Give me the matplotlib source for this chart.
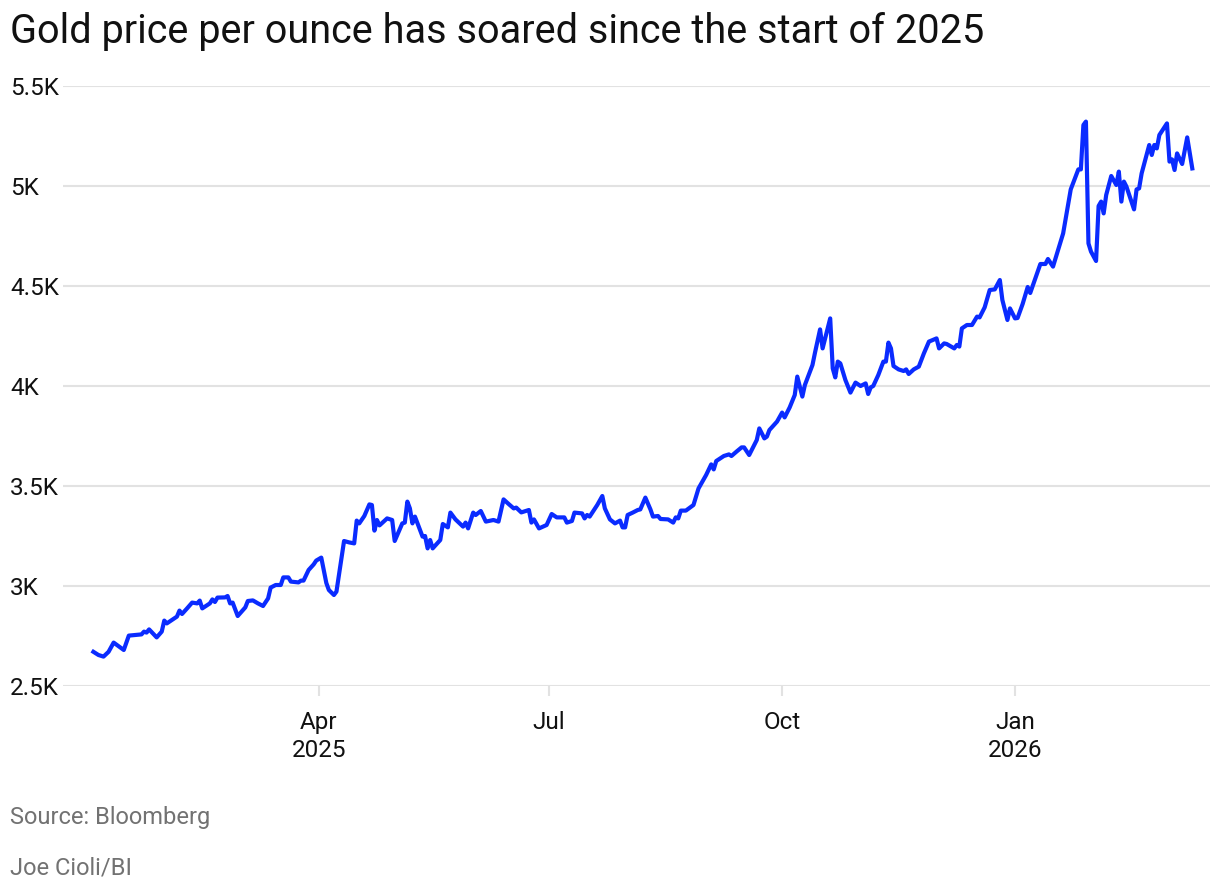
import numpy as np
import matplotlib
matplotlib.use("Agg")
import matplotlib.pyplot as plt

# ----------------- DATOS -----------------
# dias desde 2025-01-01 y precio del oro (USD por onza)
dias = [1, 3, 5, 7, 9, 13, 15, 20, 21, 22, 23, 26, 28, 29, 30, 32, 34, 35, 36, 38,
        40, 42, 43, 44, 47, 48, 49, 50, 53, 54, 55, 56, 58, 61, 62, 64, 66, 68, 70, 71,
        73, 75, 76, 78, 79, 82, 83, 84, 86, 88, 89, 91, 93, 94, 96, 97, 100, 102, 104, 105,
        106, 108, 110, 111, 112, 113, 114, 117, 119, 120, 123, 124, 125, 126, 127, 128, 131, 132, 133, 134,
        135, 138, 139, 141, 142, 144, 147, 148, 149, 151, 152, 154, 156, 158, 159, 161, 163, 165, 167, 168,
        170, 173, 174, 175, 177, 180, 182, 184, 187, 188, 190, 191, 194, 195, 196, 197, 200, 202, 203, 205,
        207, 209, 210, 211, 212, 214, 216, 217, 219, 221, 222, 224, 225, 228, 230, 231, 232, 233, 235, 238,
        240, 243, 245, 246, 247, 250, 252, 253, 255, 257, 258, 260, 263, 264, 266, 267, 268, 271, 273, 274,
        276, 278, 279, 281, 282, 285, 286, 288, 289, 292, 293, 294, 295, 296, 298, 300, 302, 304, 306, 307,
        308, 309, 311, 313, 314, 315, 316, 317, 319, 321, 322, 323, 325, 327, 329, 331, 334, 335, 337, 338,
        341, 342, 343, 344, 346, 348, 350, 351, 353, 355, 357, 359, 360, 362, 363, 365, 366, 368, 370, 371,
        373, 375, 377, 378, 380, 382, 384, 387, 390, 391, 392, 393, 394, 395, 397, 398, 399, 400, 401, 403,
        405, 406, 407, 408, 409, 412, 413, 414, 415, 418, 419, 420, 421, 422, 425, 426, 427, 428, 429, 431,
        433, 435]
precio = [2671, 2655, 2647, 2671, 2717, 2680, 2752, 2758, 2772, 2767, 2783, 2743, 2772, 2827, 2813, 2830, 2847, 2877, 2860, 2888,
          2917, 2913, 2927, 2888, 2913, 2933, 2920, 2942, 2943, 2950, 2913, 2917, 2850, 2893, 2925, 2928, 2913, 2900, 2938, 2992,
          3005, 3005, 3043, 3043, 3022, 3018, 3027, 3027, 3080, 3108, 3127, 3142, 3015, 2980, 2955, 2972, 3225, 3218, 3213, 3327,
          3313, 3350, 3408, 3405, 3277, 3330, 3303, 3338, 3330, 3225, 3313, 3317, 3422, 3388, 3313, 3347, 3247, 3250, 3188, 3230,
          3188, 3230, 3310, 3293, 3367, 3333, 3297, 3317, 3288, 3367, 3355, 3375, 3322, 3327, 3330, 3322, 3433, 3410, 3388, 3392,
          3368, 3380, 3317, 3333, 3288, 3305, 3360, 3343, 3343, 3317, 3325, 3367, 3363, 3338, 3355, 3347, 3405, 3450, 3388, 3333,
          3313, 3327, 3293, 3293, 3355, 3367, 3380, 3383, 3442, 3383, 3347, 3350, 3335, 3333, 3317, 3343, 3338, 3377, 3377, 3405,
          3488, 3555, 3608, 3583, 3625, 3650, 3658, 3650, 3672, 3693, 3693, 3655, 3730, 3788, 3738, 3747, 3780, 3822, 3867, 3843,
          3893, 3955, 4047, 3947, 4005, 4105, 4167, 4283, 4188, 4338, 4088, 4043, 4122, 4113, 4030, 3967, 4017, 4000, 4013, 3960,
          3993, 4000, 4055, 4122, 4122, 4217, 4188, 4100, 4083, 4075, 4083, 4060, 4083, 4097, 4163, 4222, 4238, 4188, 4213, 4210,
          4188, 4205, 4197, 4288, 4305, 4305, 4347, 4343, 4393, 4480, 4483, 4530, 4430, 4330, 4388, 4338, 4340, 4410, 4495, 4465,
          4538, 4610, 4610, 4635, 4597, 4680, 4763, 4983, 5083, 5083, 5305, 5322, 4713, 4672, 4625, 4900, 4922, 4863, 4955, 5050,
          5005, 5072, 4922, 5022, 4997, 4883, 4983, 4988, 5063, 5205, 5155, 5205, 5188, 5255, 5313, 5122, 5133, 5080, 5163, 5110,
          5243, 5088]

y_ticks = [2500, 3000, 3500, 4000, 4500, 5000, 5500]
y_labels = ["2.5K", "3K", "3.5K", "4K", "4.5K", "5K", "5.5K"]
x_ticks = ["2025-04-01", "2025-07-01", "2025-10-01", "2026-01-01"]
x_labels = ["Apr\n2025", "Jul", "Oct", "Jan\n2026"]
# ---------------------------------------------------------------

plt.rcParams["font.family"] = ["Roboto", "DejaVu Sans"]

AZUL = "#0A2BFF"
GRIS_GRID = "#e2e2e2"
GRIS_TXT = "#727272"
NEGRO = "#111111"

fechas = np.datetime64("2025-01-01") + np.array(dias).astype("timedelta64[D]")

fig = plt.figure(figsize=(12.2, 8.9), dpi=100)
ax = fig.add_axes([63 / 1220, 1 - 686 / 890, (1210 - 63) / 1220, 600 / 890])

ax.plot(fechas, precio, color=AZUL, lw=3.0, solid_joinstyle="round")

ax.set_ylim(2500, 5500)
ax.set_xlim(np.datetime64("2024-12-21"), np.datetime64("2026-03-19"))

ax.set_yticks(y_ticks)
ax.set_yticklabels(y_labels)
ax.tick_params(axis="y", length=0, pad=38, labelsize=17.5, labelcolor=NEGRO)
for t in ax.get_yticklabels():
    t.set_horizontalalignment("left")

ax.set_xticks([np.datetime64(d) for d in x_ticks])
ax.set_xticklabels(x_labels, linespacing=1.3)
ax.tick_params(axis="x", length=7, width=1.5, color=GRIS_GRID, pad=11,
               labelsize=17.5, labelcolor=NEGRO)

ax.grid(axis="y", color=GRIS_GRID, lw=1.5)
ax.set_axisbelow(True)
for s in ax.spines.values():
    s.set_visible(False)

fig.text(10 / 1220, 1 - 43 / 890, "Gold price per ounce has soared since the start of 2025",
         fontsize=28.5, color=NEGRO, va="baseline", ha="left")
fig.text(10 / 1220, 1 - 824 / 890, "Source: Bloomberg", fontsize=17,
         color=GRIS_TXT, va="baseline", ha="left")
fig.text(10 / 1220, 1 - 874 / 890, "Joe Cioli/BI", fontsize=17,
         color=GRIS_TXT, va="baseline", ha="left")

fig.savefig("out.png", dpi=100, facecolor="white")
